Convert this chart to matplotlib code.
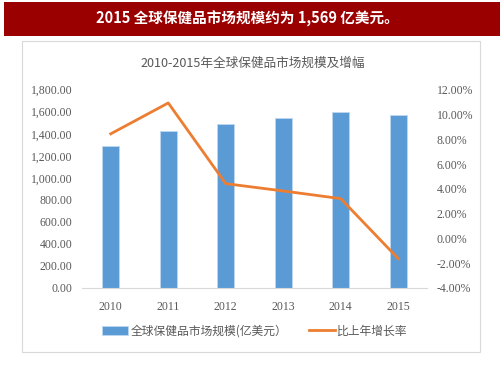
import matplotlib
matplotlib.use("Agg")
import matplotlib.pyplot as plt
import matplotlib.patches as patches
from matplotlib.ticker import FuncFormatter
import numpy as np

plt.rcParams['font.family'] = ['Noto Sans CJK SC', 'DejaVu Sans']

# data
years = ['2010', '2011', '2012', '2013', '2014', '2015']
market = [1287, 1426, 1490, 1544, 1595, 1569]       # 亿美元
growth = [8.44, 10.93, 4.42, 3.83, 3.21, -1.63]     # %

W, H = 503, 378
fig = plt.figure(figsize=(W / 100, H / 100), dpi=100)
fig.patch.set_facecolor('white')

def fx(px):
    return px / W

def fy(py):
    return 1 - py / H

# red banner
fig.patches.append(patches.Rectangle((fx(4), fy(36)), fx(496), 34 / H,
                                     transform=fig.transFigure, facecolor='#9B0000',
                                     edgecolor='none', zorder=-2))
fig.text(fx(247), fy(19), '2015 全球保健品市场规模约为 1,569 亿美元。', color='white',
         fontsize=10.5, fontweight='bold', ha='center', va='center')

# chart frame
fig.patches.append(patches.Rectangle((fx(22), fy(352)), fx(458), 311 / H,
                                     transform=fig.transFigure, facecolor='white',
                                     edgecolor='#D9D9D9', linewidth=0.8, zorder=-2))

fig.text(fx(253), fy(63), '2010-2015年全球保健品市场规模及增幅', color='#595959',
         fontsize=9.1, ha='center', va='center')

ax = fig.add_axes([fx(82), fy(288), fx(345), (288 - 89.7) / H])
x = np.arange(len(years))
bars = ax.bar(x, market, width=0.3, color='#5B9BD5', edgecolor='#BDD7EE', linewidth=0.6,
              label='全球保健品市场规模(亿美元）', zorder=2)
ax.set_xlim(-0.5, 5.5)
ax.set_ylim(0, 1800)
ax.set_yticks(np.arange(0, 1801, 200))
ax.yaxis.set_major_formatter(FuncFormatter(lambda v, p: f'{v:,.2f}'))
ax.set_xticks(x)
ax.set_xticklabels(years)
for s in ['top', 'left', 'right']:
    ax.spines[s].set_visible(False)
ax.spines['bottom'].set_color('#D9D9D9')
ax.tick_params(length=0, colors='#595959', labelsize=8.5)
ax.tick_params(axis='y', pad=7)
ax.tick_params(axis='x', pad=9)
for lab in ax.get_xticklabels() + ax.get_yticklabels():
    lab.set_fontfamily(['Liberation Serif', 'DejaVu Serif'])
ax.patch.set_alpha(0)

ax2 = ax.twinx()
line, = ax2.plot(x, growth, color='#ED7D31', linewidth=2, label='比上年增长率', zorder=3)
ax2.set_ylim(-4, 12)
ax2.set_yticks(np.arange(-4, 12.1, 2))
ax2.yaxis.set_major_formatter(FuncFormatter(lambda v, p: f'{v:.2f}%'))
for s in ['top', 'left', 'right', 'bottom']:
    ax2.spines[s].set_visible(False)
ax2.tick_params(length=0, colors='#595959', labelsize=8.5, pad=7)
for lab in ax2.get_yticklabels():
    lab.set_fontfamily(['Liberation Serif', 'DejaVu Serif'])
ax2.patch.set_alpha(0)

fig.legend([bars, line], ['全球保健品市场规模(亿美元）', '比上年增长率'],
           loc='center', bbox_to_anchor=(fx(255), fy(331)), ncol=2, frameon=False,
           fontsize=8.5, handlelength=2.2, handletextpad=0.2, columnspacing=1.8,
           labelcolor='#595959')

fig.savefig('out.png', dpi=100, facecolor='white')
